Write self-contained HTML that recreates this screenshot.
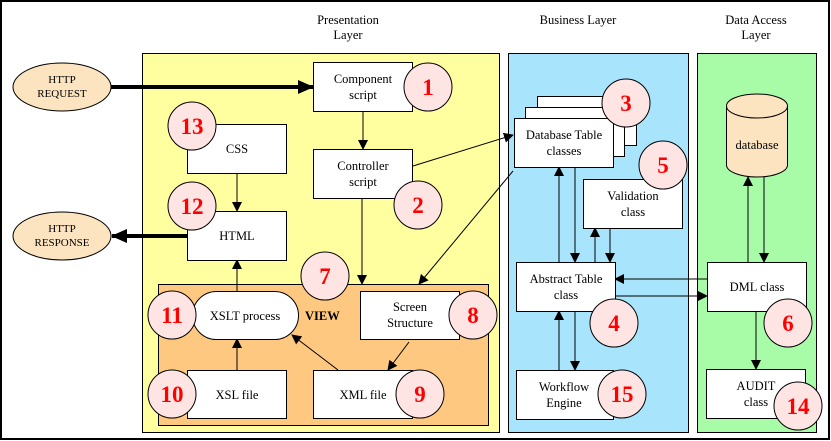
<!DOCTYPE html>
<html><head><meta charset="utf-8"><style>
html,body{margin:0;padding:0;background:#fff;}
svg{display:block;}
text{font-family:"Liberation Serif",serif;}
.t{font-size:12.5px;fill:#000;text-anchor:middle;}
.n{font-size:23px;font-weight:bold;fill:#f00;text-anchor:middle;}
.b{fill:#fff;stroke:#000;stroke-width:1;}
.c{fill:#ffe4e4;stroke:#000;stroke-width:1;}
.l{stroke:#000;stroke-width:1;fill:none;}
</style></head><body>
<svg width="831" height="441" viewBox="0 0 831 441" xmlns="http://www.w3.org/2000/svg">
<defs>
<marker id="a" markerWidth="10" markerHeight="10" refX="9" refY="5" orient="auto" markerUnits="userSpaceOnUse"><path d="M0,0 L10,5 L0,10 z" fill="#000"/></marker>
<marker id="A" markerWidth="16" markerHeight="14" refX="15" refY="7" orient="auto" markerUnits="userSpaceOnUse"><path d="M0,0 L16,7 L0,14 z" fill="#000"/></marker>
</defs>
<rect x="1" y="1" width="828" height="438" fill="#fff" stroke="#000" stroke-width="2"/>
<text class="t" x="348" y="24">Presentation</text>
<text class="t" x="348" y="39">Layer</text>
<text class="t" x="578" y="24">Business Layer</text>
<text class="t" x="756" y="24">Data Access</text>
<text class="t" x="756" y="39">Layer</text>

<rect x="142.5" y="53.5" width="357" height="379" fill="#ffffa0" stroke="#000"/>
<rect x="508.5" y="53.5" width="180" height="379" fill="#a8e4fc" stroke="#000"/>
<rect x="697.5" y="53.5" width="119" height="379" fill="#a8fca8" stroke="#000"/>
<rect x="158.5" y="284.5" width="330" height="141" fill="#ffc880" stroke="#000"/>

<ellipse cx="62" cy="87" rx="49" ry="24" fill="#fce4c0" stroke="#000"/>
<text class="t" x="62" y="83" style="font-size:11px">HTTP</text>
<text class="t" x="62" y="97" style="font-size:11px">REQUEST</text>
<ellipse cx="62" cy="236" rx="49" ry="24" fill="#fce4c0" stroke="#000"/>
<text class="t" x="62" y="232" style="font-size:11px">HTTP</text>
<text class="t" x="62" y="246" style="font-size:11px">RESPONSE</text>

<line x1="111" y1="87" x2="313" y2="87" stroke="#000" stroke-width="4" marker-end="url(#A)"/>
<line x1="187" y1="236" x2="112" y2="236" stroke="#000" stroke-width="4" marker-end="url(#A)"/>

<!-- connectors -->
<line class="l" x1="363" y1="111" x2="363" y2="149" marker-end="url(#a)"/>
<line class="l" x1="362" y1="198" x2="362" y2="284" marker-end="url(#a)"/>
<line class="l" x1="237" y1="173" x2="237" y2="211" marker-end="url(#a)"/>
<line class="l" x1="237" y1="291" x2="237" y2="260" marker-end="url(#a)"/>
<line class="l" x1="237" y1="370" x2="237" y2="339" marker-end="url(#a)"/>
<line class="l" x1="338" y1="370" x2="292" y2="335" marker-end="url(#a)"/>
<line class="l" x1="409" y1="342" x2="388" y2="370" marker-end="url(#a)"/>
<line class="l" x1="413" y1="166" x2="513" y2="135" marker-end="url(#a)"/>
<line class="l" x1="513" y1="171" x2="419" y2="284" marker-end="url(#a)"/>
<line class="l" x1="559" y1="262" x2="559" y2="167" marker-end="url(#a)"/>
<line class="l" x1="575" y1="167" x2="575" y2="262" marker-end="url(#a)"/>
<line class="l" x1="595" y1="262" x2="595" y2="228" marker-end="url(#a)"/>
<line class="l" x1="610" y1="228" x2="610" y2="262" marker-end="url(#a)"/>
<line class="l" x1="559" y1="370" x2="559" y2="311" marker-end="url(#a)"/>
<line class="l" x1="575" y1="311" x2="575" y2="370" marker-end="url(#a)"/>
<line class="l" x1="707" y1="279" x2="615" y2="279" marker-end="url(#a)"/>
<line class="l" x1="615" y1="296" x2="707" y2="296" marker-end="url(#a)"/>
<line class="l" x1="748" y1="262" x2="748" y2="177" marker-end="url(#a)"/>
<line class="l" x1="764" y1="177" x2="764" y2="262" marker-end="url(#a)"/>
<line class="l" x1="756" y1="311" x2="756" y2="369" marker-end="url(#a)"/>

<!-- presentation boxes -->
<rect class="b" x="313.5" y="62.5" width="99" height="49"/>
<text class="t" x="363" y="83">Component</text><text class="t" x="363" y="99">script</text>
<rect class="b" x="313.5" y="149.5" width="99" height="49"/>
<text class="t" x="363" y="170">Controller</text><text class="t" x="363" y="186">script</text>
<rect class="b" x="187.5" y="124.5" width="99" height="49"/>
<text class="t" x="237" y="153">CSS</text>
<rect class="b" x="187.5" y="211.5" width="99" height="49"/>
<text class="t" x="237" y="240">HTML</text>
<rect class="b" x="192.5" y="291.5" width="106" height="48" rx="24" ry="24"/>
<text class="t" x="245" y="320">XSLT process</text>
<text x="305" y="320" style="font-size:12.5px;font-weight:bold;fill:#000;">VIEW</text>
<rect class="b" x="360.5" y="291.5" width="99" height="48"/>
<text class="t" x="410" y="311">Screen</text><text class="t" x="410" y="327">Structure</text>
<rect class="b" x="187.5" y="370.5" width="99" height="48"/>
<text class="t" x="237" y="399">XSL file</text>
<rect class="b" x="313.5" y="370.5" width="99" height="48"/>
<text class="t" x="363" y="399">XML file</text>

<!-- business -->
<rect class="b" x="537.5" y="96.5" width="99" height="49"/>
<rect class="b" x="525.5" y="107.5" width="99" height="49"/>
<rect class="b" x="514.5" y="118.5" width="99" height="49"/>
<text class="t" x="564" y="139">Database Table</text><text class="t" x="564" y="155">classes</text>
<rect class="b" x="583.5" y="179.5" width="99" height="49"/>
<text class="t" x="633" y="200">Validation</text><text class="t" x="633" y="216">class</text>
<rect class="b" x="516.5" y="262.5" width="99" height="49"/>
<text class="t" x="566" y="283">Abstract Table</text><text class="t" x="566" y="299">class</text>
<rect class="b" x="516.5" y="370.5" width="97" height="49"/>
<text class="t" x="564" y="391">Workflow</text><text class="t" x="564" y="407">Engine</text>

<!-- data -->
<path d="M726.5,106 L726.5,165 A30.5,12 0 0 0 787.5,165 L787.5,106" fill="#fce4c0" stroke="#000"/>
<ellipse cx="757" cy="106" rx="30.5" ry="12" fill="#fce4c0" stroke="#000"/>
<text class="t" x="757" y="149">database</text>
<rect class="b" x="707.5" y="262.5" width="99" height="49"/>
<text class="t" x="757" y="291">DML class</text>
<rect class="b" x="706.5" y="369.5" width="99" height="49"/>
<text class="t" x="756" y="390">AUDIT</text><text class="t" x="756" y="406">class</text>

<!-- circles -->
<g>
<circle class="c" cx="428" cy="87" r="24"/><text class="n" x="428" y="95">1</text>
<circle class="c" cx="418" cy="205" r="24"/><text class="n" x="418" y="213">2</text>
<circle class="c" cx="626" cy="103" r="24"/><text class="n" x="626" y="111">3</text>
<circle class="c" cx="614" cy="323" r="24"/><text class="n" x="614" y="331">4</text>
<circle class="c" cx="663" cy="165" r="24"/><text class="n" x="663" y="173">5</text>
<circle class="c" cx="788" cy="323" r="24"/><text class="n" x="788" y="331">6</text>
<circle class="c" cx="325" cy="276" r="24"/><text class="n" x="325" y="284">7</text>
<circle class="c" cx="473" cy="315" r="24"/><text class="n" x="473" y="323">8</text>
<circle class="c" cx="420" cy="394" r="24"/><text class="n" x="420" y="402">9</text>
<circle class="c" cx="172" cy="394" r="24"/><text class="n" x="172" y="402">10</text>
<circle class="c" cx="172" cy="315" r="24"/><text class="n" x="172" y="323">11</text>
<circle class="c" cx="192" cy="206" r="24"/><text class="n" x="192" y="214">12</text>
<circle class="c" cx="192" cy="126" r="24"/><text class="n" x="192" y="134">13</text>
<circle class="c" cx="798" cy="406" r="24"/><text class="n" x="798" y="414">14</text>
<circle class="c" cx="622" cy="394" r="24"/><text class="n" x="622" y="402">15</text>
</g>
</svg>
</body></html>
